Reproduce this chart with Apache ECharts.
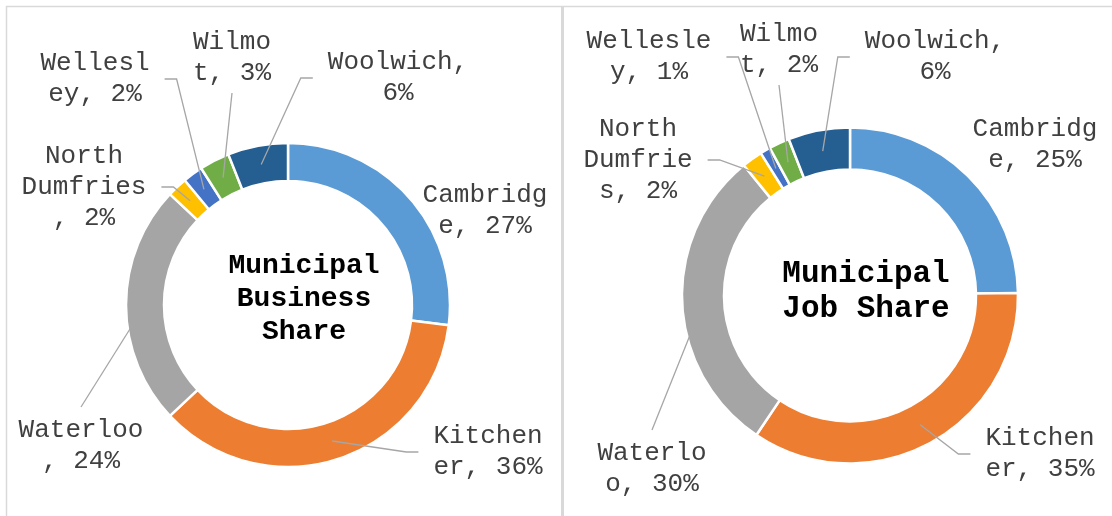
<!DOCTYPE html>
<html>
<head>
<meta charset="utf-8">
<title>Municipal Business and Job Share</title>
<script src="https://cdn.jsdelivr.net/npm/echarts@6/dist/echarts.min.js"></script>
<style>
  html, body { margin: 0; padding: 0; background: #fff; }
  #main { width: 1112px; height: 516px; }
</style>
</head>
<body>
<div id="main"></div>
<script>
// slices, clockwise from 12 o'clock
const municipalities = ['Cambridge', 'Kitchener', 'Waterloo', 'North Dumfries', 'Wellesley', 'Wilmot', 'Woolwich'];
// % of businesses
const businessShare = [27, 36, 24, 2, 2, 3, 6];
// % of jobs
const jobShare = [25, 35, 30, 2, 1, 2, 6];

const businessTitle = 'Municipal\nBusiness\nShare';
const jobTitle = 'Municipal\nJob Share';

const colors = ['#5B9BD5', '#ED7D31', '#A5A5A5', '#FFC000', '#4472C4', '#70AD47', '#255E91'];
const FONT = '"Liberation Mono", "Courier New", monospace';
const FONT_SIZE = 26;
const LINE_H = 31;
const CHAR_W = FONT_SIZE * 0.6;

// where each label sits (centre), how many chars per line, which side the leader hits
const businessPlace = [
  { x: 485, y: 211, wrap: 8, side: null },
  { x: 488, y: 452, wrap: 7, side: 'left' },
  { x: 81, y: 446, wrap: 8, side: 'top' },
  { x: 84, y: 187, wrap: 8, side: 'right' },
  { x: 95, y: 79, wrap: 7, side: 'right' },
  { x: 232, y: 58, wrap: 5, side: 'bottom' },
  { x: 398, y: 78, wrap: 9, side: 'left' }
];
const jobPlace = [
  { x: 1035, y: 145, wrap: 8, side: null },
  { x: 1040, y: 454, wrap: 7, side: 'left' },
  { x: 652, y: 469, wrap: 7, side: 'top' },
  { x: 638, y: 160, wrap: 7, side: 'right' },
  { x: 649, y: 57, wrap: 8, side: 'right' },
  { x: 779, y: 50, wrap: 5, side: 'bottom' },
  { x: 935, y: 57, wrap: 9, side: 'left' }
];

// excel style wrap: by words, long words get cut
function wrap(text, w) {
  const lines = [];
  let line = '';
  text.split(' ').forEach(function (word) {
    const piece = line ? line + ' ' + word : word;
    if (piece.length <= w) { line = piece; return; }
    if (line) { lines.push(line); line = ''; }
    while (word.length > w) {
      lines.push(word.slice(0, w));
      word = word.slice(w);
    }
    line = word;
  });
  if (line) lines.push(line);
  return lines;
}

// the ring itself, no labels
function ringSeries(values, center, radius) {
  return {
    type: 'pie',
    center: center,
    radius: radius,
    startAngle: 90,
    clockwise: true,
    animation: false,
    silent: true,
    z: 2,
    itemStyle: { borderColor: '#fff', borderWidth: 2.5 },
    label: { show: false },
    labelLine: { show: false },
    data: municipalities.map(function (name, i) { return { name: name, value: values[i] }; })
  };
}

// same slices, transparent, only to carry labels and leaders on top of the ring
function labelSeries(values, place, center, radius) {
  const total = values.reduce(function (s, v) { return s + v; }, 0);
  const rMid = (radius[0] + radius[1]) / 2;
  const texts = municipalities.map(function (name, i) {
    return wrap(name + ', ' + values[i] + '%', place[i].wrap);
  });
  return {
    type: 'pie',
    center: center,
    radius: radius,
    startAngle: 90,
    clockwise: true,
    avoidLabelOverlap: false,
    animation: false,
    silent: true,
    z: 3,
    itemStyle: { color: 'rgba(0,0,0,0)', borderWidth: 0 },
    label: {
      show: true,
      position: 'outside',
      formatter: function (p) { return texts[p.dataIndex].join('\n'); },
      fontFamily: FONT,
      fontSize: FONT_SIZE,
      lineHeight: LINE_H,
      color: '#404040',
      overflow: 'none'
    },
    labelLine: { show: true, lineStyle: { color: '#A6A6A6', width: 1.3, opacity: 1 } },
    labelLayout: function (params) {
      const i = params.dataIndex;
      const p = place[i];
      const lines = texts[i];
      const tw = Math.max.apply(null, lines.map(function (l) { return l.length; })) * CHAR_W;
      const th = lines.length * LINE_H;
      // leader starts in the middle of the ring at the slice's mid angle
      let before = 0;
      for (let k = 0; k < i; k++) before += values[k];
      const a = (before + values[i] / 2) / total * Math.PI * 2;
      const start = [center[0] + rMid * Math.sin(a), center[1] - rMid * Math.cos(a)];
      let end, mid;
      if (p.side === 'left') {
        end = [p.x - tw / 2 - 15, p.y];
        mid = [end[0] - 12, p.y];
      } else if (p.side === 'right') {
        end = [p.x + tw / 2 + 15, p.y];
        mid = [end[0] + 12, p.y];
      } else if (p.side === 'top') {
        end = [p.x, p.y - th / 2 - 8];
        mid = end;
      } else {
        end = [p.x, p.y + th / 2 + 4];
        mid = end;
      }
      return {
        x: p.x,
        y: p.y,
        align: 'center',
        verticalAlign: 'middle',
        labelLinePoints: [end, mid, start]
      };
    },
    data: municipalities.map(function (name, i) {
      return { name: name, value: values[i], labelLine: { show: place[i].side !== null } };
    })
  };
}

function titleText(text, x, y, size, lh) {
  return {
    type: 'text',
    x: x,
    y: y,
    z: 10,
    style: {
      text: text,
      fontFamily: FONT,
      fontWeight: 'bold',
      fontSize: size,
      lineHeight: lh,
      fill: '#000',
      align: 'center',
      verticalAlign: 'middle',
      textAlign: 'center',
      textVerticalAlign: 'middle'
    }
  };
}

const chart = echarts.init(document.getElementById('main'), null, { renderer: 'canvas' });
chart.setOption({
  color: colors,
  animation: false,
  tooltip: { show: false },
  graphic: [
    { type: 'line', shape: { x1: 6, y1: 6.5, x2: 1112, y2: 6.5 }, style: { stroke: '#D9D9D9', lineWidth: 1.5 } },
    { type: 'line', shape: { x1: 6.5, y1: 6, x2: 6.5, y2: 516 }, style: { stroke: '#D9D9D9', lineWidth: 1.5 } },
    { type: 'rect', shape: { x: 561, y: 6, width: 3, height: 510 }, style: { fill: '#D9D9D9' } },
    titleText(businessTitle, 304, 299, 28, 33),
    titleText(jobTitle, 866, 292, 31, 35)
  ],
  series: [
    ringSeries(businessShare, [288, 305], [124, 162]),
    ringSeries(jobShare, [850, 295.5], [126, 168]),
    labelSeries(businessShare, businessPlace, [288, 305], [124, 162]),
    labelSeries(jobShare, jobPlace, [850, 295.5], [126, 168])
  ]
});
</script>
</body>
</html>
